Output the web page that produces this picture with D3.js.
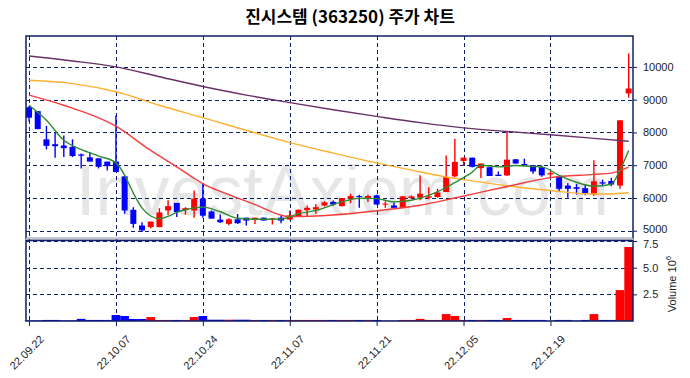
<!DOCTYPE html>
<html>
<head>
<meta charset="utf-8">
<script src="https://cdn.jsdelivr.net/npm/d3@7"></script>
<style>
  body { margin: 0; background: #fff; }
  svg { display: block; }
</style>
</head>
<body>
<svg id="chart" width="690" height="378"></svg>
<script>
// candle data, one entry per trading day (22.09.22 .. 23.01.02)
const open  = [8770,8650,7790,7640,7600,7560,7330,7240,7210,7110,7110,6660,5640,5160,5110,5110,5620,5850,5630,5620,
               5980,5590,5340,5210,5350,5400,5340,5400,5330,5400,5340,5450,5630,5650,5770,5880,5750,5980,6060,5980,
               6080,5800,5770,5700,6000,6010,6010,6030,6180,6660,7130,7230,6910,6940,6710,6690,7180,7040,7000,6940,
               6720,6660,6380,6330,6300,6110,6480,6520,6380,9190];
const high  = [8800,8650,8200,7980,7910,7790,7360,7400,7210,7110,8520,6660,5720,5260,5280,5690,5930,5850,5720,6230,
               6450,5620,5500,5380,5510,5400,5400,5400,5390,5450,5620,5650,5770,5820,5900,5920,6000,6130,6100,6100,
               6100,5900,5860,6070,6080,6690,6330,6280,7300,7810,7230,7230,7050,6940,6810,8030,7190,7200,7000,6990,
               6820,6660,6460,6430,6420,7150,6560,6620,8370,10410];
const low   = [8330,8100,7480,7230,7250,7250,6900,7110,6900,6840,6790,5520,5090,4960,5080,5110,5470,5420,5490,5400,
               5400,5370,5240,5170,5210,5160,5210,5310,5190,5230,5340,5440,5420,5520,5740,5760,5750,5840,5700,5880,
               5800,5700,5700,5700,5960,5930,5960,6010,6180,6640,6990,6930,6610,6670,6670,6670,7050,7000,6740,6650,
               6640,6210,6010,6100,6080,6060,6360,6360,6280,9060];
const close = [8450,8100,7590,7580,7520,7280,7290,7110,6950,6970,6790,5620,5210,5010,5280,5560,5750,5570,5690,5980,
               5460,5370,5260,5350,5230,5310,5400,5310,5370,5310,5470,5640,5700,5720,5870,5800,6000,6060,6030,6060,
               5800,5830,5700,6050,6050,6130,6050,6170,6640,7100,7230,6950,7050,6670,6670,7170,7050,7000,6810,6690,
               6760,6280,6280,6280,6150,6510,6440,6410,8370,9340];
// volume in millions of shares
const volume = [0.05,0.05,0.1,0.1,0.05,0.05,0.2,0.1,0.1,0.1,0.56,0.47,0.19,0.19,0.37,0.1,0.1,0.1,0.1,0.37,
                0.47,0.12,0.12,0.12,0.12,0.12,0.1,0.1,0.1,0.1,0.1,0.1,0.1,0.1,0.1,0.1,0.1,0.1,0.1,0.1,
                0.1,0.03,0.03,0.1,0.1,0.2,0.1,0.1,0.65,0.47,0.1,0.1,0.1,0.1,0.1,0.28,0.1,0.1,0.1,0.1,
                0.03,0.1,0.1,0.03,0.1,0.65,0.1,0.1,2.9,6.94];

// moving averages as [day index, price]
const ma5   = [[0,8830],[2,8370],[4,7760],[6,7480],[8,7280],[10,7070],[11,6700],[12,6150],[13,5700],[14,5450],
               [15,5370],[16,5440],[17,5560],[18,5640],[20,5720],[22,5580],[24,5380],[26,5350],[29,5360],[31,5520],
               [33,5620],[36,5880],[38,5990],[40,5980],[42,5880],[44,5930],[46,6080],[48,6320],[49,6470],[51,6790],
               [52,7000],[54,6950],[56,6990],[58,6960],[59,6950],[61,6690],[63,6480],[65,6360],[67,6420],[68,6850],[69,7450]];
const ma20  = [[0,9140],[4,8830],[10,8190],[14,7450],[17,6950],[19,6600],[20,6440],[23,6100],[26,5800],[30,5430],
               [35,5480],[40,5610],[45,5780],[49,6000],[55,6350],[60,6620],[65,6720],[67,6760],[69,6940]];
const ma60  = [[0,9590],[5,9490],[10,9240],[15,8830],[20,8450],[23,8220],[30,7690],[35,7370],[40,7070],[45,6800],
               [48,6640],[50,6560],[55,6370],[60,6230],[64,6130],[66,6120],[69,6160]];
const ma120 = [[0,10330],[5,10180],[10,10000],[15,9700],[20,9400],[25,9140],[30,8910],[35,8690],[40,8490],
               [45,8300],[50,8140],[55,8030],[60,7930],[65,7820],[69,7730]];

const tickIdx    = [0,10,20,30,40,50,60];
const tickLabels = ['22.09.22','22.10.07','22.10.24','22.11.07','22.11.21','22.12.05','22.12.19'];
const priceTicks = [5000,6000,7000,8000,9000,10000];
const volTicks   = [2.5,5.0,7.5];

const svg = d3.select('#chart');
const left = 26, right = 633;
const pTop = 36, pBot = 238.5, vTop = 240.5, vBot = 321;
const navy = '#0d1f66';
const fontAxis = '"Liberation Sans", Arial, sans-serif';

const x = d3.scaleLinear().domain([-0.35, 69.5]).range([left, right]);
const y = d3.scaleLinear().domain([4764, 10942]).range([pBot, pTop]);
const yv = d3.scaleLinear().domain([0, 7.55]).range([vBot, vTop]);

// title
svg.append('text')
  .attr('x', 350).attr('y', 23)
  .attr('text-anchor', 'middle')
  .style('font-family', '"Noto Sans CJK KR", sans-serif')
  .style('font-size', '17px').style('font-weight', 'bold')
  .text('진시스템 (363250) 주가 차트');

// watermark
svg.append('text')
  .attr('x', 76).attr('y', 215)
  .style('font-family', '"Liberation Sans", Arial, sans-serif')
  .style('font-size', '70px')
  .attr('fill', '#e6e6e6')
  .text('InvestAxiom.com');

// grid
const grid = svg.append('g').attr('stroke', navy).attr('stroke-width', 1).attr('stroke-dasharray', '4,3');
grid.selectAll('.gx').data(tickIdx).enter().append('line')
  .attr('x1', d => Math.round(x(d)) + 0.5).attr('x2', d => Math.round(x(d)) + 0.5)
  .attr('y1', pTop).attr('y2', vBot);
grid.selectAll('.gy').data(priceTicks).enter().append('line')
  .attr('x1', left).attr('x2', right)
  .attr('y1', d => Math.round(y(d)) + 0.5).attr('y2', d => Math.round(y(d)) + 0.5);
grid.selectAll('.gv').data(volTicks).enter().append('line')
  .attr('x1', left).attr('x2', right)
  .attr('y1', d => Math.round(yv(d)) + 0.5).attr('y2', d => Math.round(yv(d)) + 0.5);

// volume bars
const days = d3.range(close.length);
const upColor = '#ff0000', downColor = '#0000ff';
const colorOf = i => close[i] >= open[i] ? upColor : downColor;
const step = x(1) - x(0);
svg.append('g').selectAll('rect').data(days).enter().append('rect')
  .attr('x', i => x(i) - step / 2)
  .attr('width', step)
  .attr('y', i => yv(volume[i]))
  .attr('height', i => vBot - yv(volume[i]))
  .attr('fill', colorOf);

// candles
const candles = svg.append('g');
candles.selectAll('line').data(days).enter().append('line')
  .attr('x1', i => x(i)).attr('x2', i => x(i))
  .attr('y1', i => y(high[i])).attr('y2', i => y(low[i]))
  .attr('stroke', colorOf).attr('stroke-width', 1.4);
candles.selectAll('rect').data(days).enter().append('rect')
  .attr('x', i => x(i) - 3)
  .attr('width', 6)
  .attr('y', i => y(Math.max(open[i], close[i])))
  .attr('height', i => Math.max(1, Math.abs(y(open[i]) - y(close[i]))))
  .attr('fill', colorOf);

// moving average lines
const line = d3.line().x(d => x(d[0])).y(d => y(d[1])).curve(d3.curveMonotoneX);
[[ma120, '#6a2f6a'], [ma60, '#ffb030'], [ma20, '#f23c3c'], [ma5, '#2e8b2e']].forEach(([data, col]) => {
  svg.append('path').datum(data)
    .attr('d', line)
    .attr('fill', 'none')
    .attr('stroke', col)
    .attr('stroke-width', 1.4);
});

// panel borders
svg.append('rect').attr('x', left).attr('y', pTop).attr('width', right - left).attr('height', pBot - pTop)
  .attr('fill', 'none').attr('stroke', navy).attr('stroke-width', 1.5);
svg.append('line').attr('x1', left).attr('x2', right).attr('y1', pBot).attr('y2', pBot)
  .attr('stroke', '#c8c8c8').attr('stroke-width', 1.5);
svg.append('rect').attr('x', left).attr('y', vTop).attr('width', right - left).attr('height', vBot - vTop)
  .attr('fill', 'none').attr('stroke', navy).attr('stroke-width', 1.5);

// right axes
const pAxis = svg.append('g').attr('transform', `translate(${right},0)`)
  .call(d3.axisRight(y).tickValues(priceTicks).tickSize(4).tickPadding(6).tickFormat(d3.format('d')));
const vAxis = svg.append('g').attr('transform', `translate(${right},0)`)
  .call(d3.axisRight(yv).tickValues(volTicks).tickSize(4).tickPadding(6).tickFormat(d3.format('.1f')));
[pAxis, vAxis].forEach(g => {
  g.select('.domain').remove();
  g.selectAll('line').attr('stroke', navy);
  g.selectAll('text').style('font-family', fontAxis).style('font-size', '11px').attr('fill', '#222');
});
// the lowest price label and the top volume label sit close together, as in the original
pAxis.selectAll('text').filter(d => d === 5000).attr('dy', '0.2em');
vAxis.selectAll('text').filter(d => d === 7.5).attr('dy', '0.55em');

// bottom axis
const xAxis = svg.append('g').attr('transform', `translate(0,${vBot})`)
  .call(d3.axisBottom(x).tickValues(tickIdx).tickSize(5).tickFormat((d, i) => tickLabels[i]));
xAxis.select('.domain').remove();
xAxis.selectAll('line').attr('stroke', navy);
xAxis.selectAll('text')
  .style('font-family', fontAxis).style('font-size', '11px').attr('fill', '#222')
  .attr('text-anchor', 'end')
  .attr('dy', null).attr('y', null)
  .attr('transform', 'translate(15,19) rotate(-45)');

// volume label
const vl = svg.append('text')
  .attr('transform', 'translate(676,284) rotate(-90)')
  .attr('text-anchor', 'middle')
  .style('font-family', fontAxis).style('font-size', '11px').attr('fill', '#222');
vl.append('tspan').text('Volume  10');
vl.append('tspan').attr('dy', -5).style('font-size', '8px').text('6');
</script>
</body>
</html>
